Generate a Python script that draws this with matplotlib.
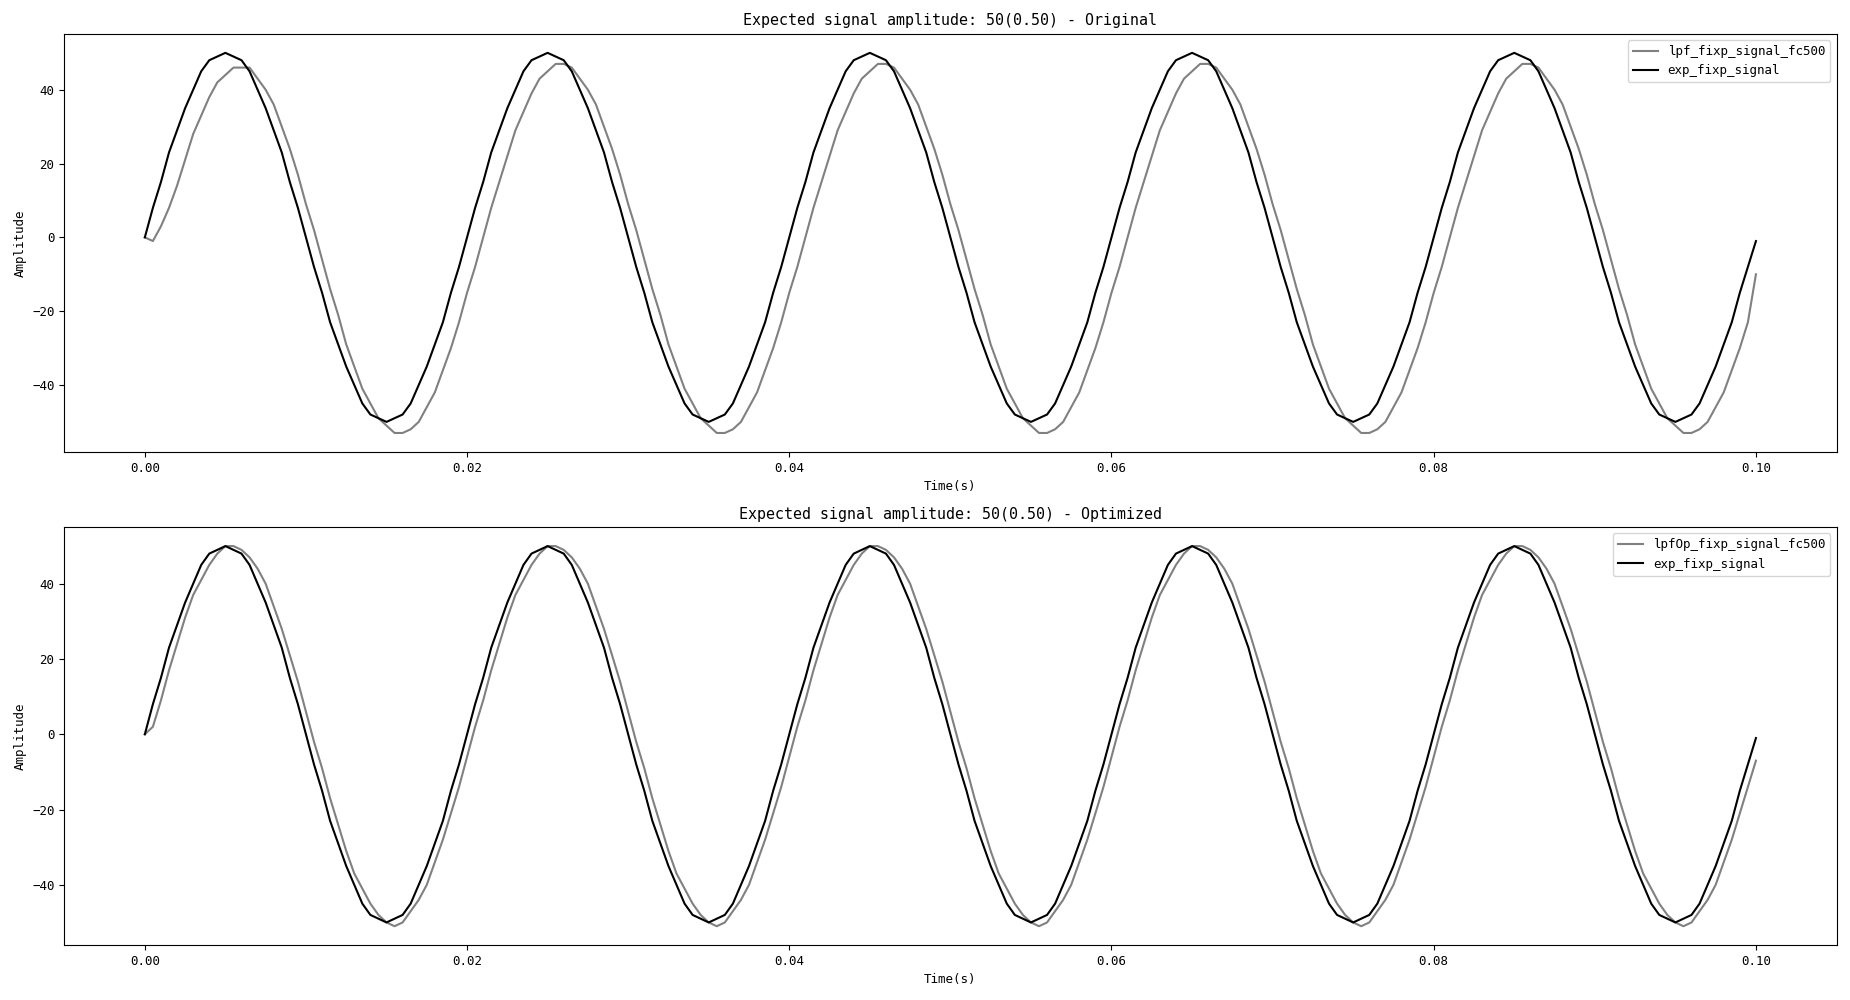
import matplotlib
matplotlib.use("Agg")
import matplotlib.pyplot as plt
import numpy as np

plt.rcParams["font.family"] = ["DejaVu Sans Mono", "Noto Sans CJK SC"]
plt.rcParams["font.size"] = 9

# sample period 0.5 ms, one 20 ms period (40 samples), repeated for 5 periods
dt = 0.0005
n_periods = 5

exp_period = [0, 8, 15, 23, 29, 35, 40, 45, 48, 49, 50, 49, 48, 45, 40, 35, 29, 23, 15, 8,
              0, -8, -15, -23, -29, -35, -40, -45, -48, -49, -50, -49, -48, -45, -40, -35, -29, -23, -15, -8]
exp_end = -1

lpf_first = [0, -1, 3, 8, 14, 21, 28, 33, 38, 42, 44, 46, 46]
lpf_period = [-15, -8, 0, 8, 15, 22, 29, 34, 39, 43, 45, 47, 47, 46, 43, 40, 36, 30, 24, 17,
              9, 2, -6, -14, -21, -29, -35, -41, -45, -49, -51, -53, -53, -52, -50, -46, -42, -36, -30, -23]
lpf_end = -10

opt_first = [0, 2, 9, 17]
opt_period = [-6, 2, 9, 17, 24, 31, 37, 41, 45, 48, 50, 50, 49, 47, 44, 40, 34, 28, 21, 14,
              6, -2, -9, -17, -24, -31, -37, -41, -45, -48, -50, -51, -50, -47, -44, -40, -34, -28, -21, -14]
opt_end = -7


def build(period, first=None, end=None):
    vals = list(period) * n_periods
    if first:
        vals[:len(first)] = first
    vals.append(end if end is not None else period[0])
    return np.array(vals)


exp_sig = build(exp_period, end=exp_end)
lpf_sig = build(lpf_period, lpf_first, lpf_end)
opt_sig = build(opt_period, opt_first, opt_end)
t = np.arange(len(exp_sig)) * dt

fig, axes = plt.subplots(2, 1, figsize=(18.5, 10), dpi=100)
panels = [
    (lpf_sig, "lpf_fixp_signal_fc500", "Expected signal amplitude: 50(0.50) - Original"),
    (opt_sig, "lpfOp_fixp_signal_fc500", "Expected signal amplitude: 50(0.50) - Optimized"),
]
for ax, (sig, label, title) in zip(axes, panels):
    ax.plot(t, sig, color="gray", lw=1.5, label=label)
    ax.plot(t, exp_sig, color="black", lw=1.5, label="exp_fixp_signal")
    ax.set_title(title)
    ax.set_xlabel("Time(s)")
    ax.set_ylabel("Amplitude")
    ax.legend(loc="upper right")

plt.tight_layout()
plt.savefig("out.png")
